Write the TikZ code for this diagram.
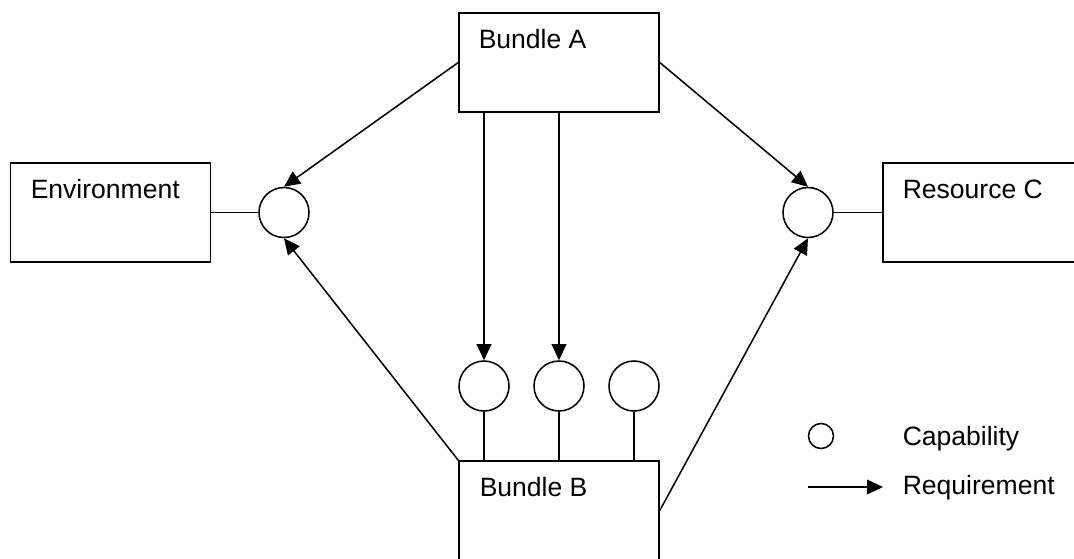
\documentclass[tikz,border=0pt]{standalone}
\usepackage{fontspec}
\setmainfont{Liberation Sans}
\usepackage{tikz}
\usetikzlibrary{arrows.meta}

\begin{document}
\begin{tikzpicture}[x=0.75pt,y=-0.75pt,line width=1.15pt,>={Triangle[length=12pt,width=11pt]},
  font=\fontsize{19.9}{24}\selectfont,
  box/.style={draw,rectangle,minimum width=150pt,minimum height=74.25pt,inner sep=0pt},
  capability/.style={draw,circle,minimum size=37.5pt,inner sep=0pt},
  txt/.style={anchor=base west,inner sep=0pt}]
  \useasboundingbox (0,0) rectangle (1074,558);
  \clip (0,0) rectangle (1074,558);
  % bundles and resources
  \node[box] (bundleA) at (559,62.5) {};
  \node[box] (bundleB) at (559,510.5) {};
  \node[box] (env) at (110.5,212.5) {};
  \node[box] (resC) at (983,212.5) {};
  \node[txt] (tA) at (478,48) {Bundle A};
  \node[txt] (tB) at (479,496) {Bundle B};
  \node[txt] (tEnv) at (30,198) {Environment};
  \node[txt] (tC) at (902,198) {Resource C};
  % capabilities
  \node[capability] (capEnv) at (284,212.5) {};
  \node[capability] (capRes) at (808,212.5) {};
  \node[capability] (capB1) at (484,386) {};
  \node[capability] (capB2) at (559,386) {};
  \node[capability] (capB3) at (634,386) {};
  \draw (env.east) -- (capEnv.west);
  \draw (capRes.east) -- (resC.west);
  \draw (capB1.south) -- (capB1.south |- bundleB.north);
  \draw (capB2.south) -- (capB2.south |- bundleB.north);
  \draw (capB3.south) -- (capB3.south |- bundleB.north);
  % requirements
  \draw[->] (bundleA.west) -- (capEnv.north);
  \draw[->] (bundleA.east) -- (capRes.north);
  \draw[->] (capB1.north |- bundleA.south) -- (capB1.north);
  \draw[->] (capB2.north |- bundleA.south) -- (capB2.north);
  \draw[->] (bundleB.north west) -- (capEnv.south);
  \draw[->] (bundleB.east) -- (capRes.south);
  % legend
  \node[capability,minimum size=18.75pt] (legCap) at (821,436) {};
  \node[txt] (legCapTxt) at (902,445) {Capability};
  \coordinate (legA) at (808,487);
  \coordinate (legB) at (883,487);
  \draw[->] (legA) -- (legB);
  \node[txt] (legReqTxt) at (902,494) {Requirement};
\end{tikzpicture}
\end{document}
